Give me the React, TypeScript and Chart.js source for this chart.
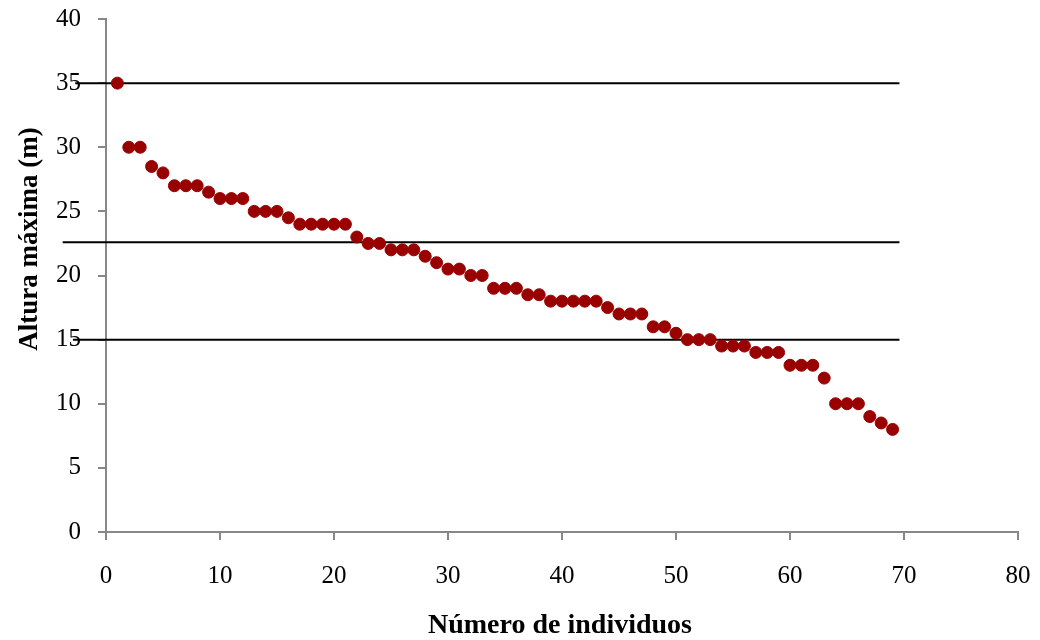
import React, { useEffect, useRef } from "react";
import { Chart, registerables } from "chart.js";

Chart.register(...registerables);

const individuals: number[] = Array.from({ length: 69 }, (_, i) => i + 1);
const heights: number[] = [
  35, 30, 30, 28.5, 28, 27, 27, 27, 26.5, 26, 26, 26, 25, 25, 25, 24.5, 24, 24, 24, 24, 24,
  23, 22.5, 22.5, 22, 22, 22, 21.5, 21, 20.5, 20.5, 20, 20, 19, 19, 19, 18.5, 18.5, 18, 18,
  18, 18, 18, 17.5, 17, 17, 17, 16, 16, 15.5, 15, 15, 15, 14.5, 14.5, 14.5, 14, 14, 14, 13,
  13, 13, 12, 10, 10, 10, 9, 8.5, 8,
];
const refLineValues: number[] = [35, 22.6, 15];
const refLineStarts: number[] = [-2.7, -3.8, -2.9];
const refLineEnd = 69.6;

const xTitle = "Número de individuos";
const yTitle = "Altura máxima (m)";

const FONT = "'Liberation Serif', 'Times New Roman', serif";

export default function App() {
  const ref = useRef<HTMLCanvasElement | null>(null);

  useEffect(() => {
    if (!ref.current) return;
    const titlePlugin = {
      id: "axisTitles",
      afterDraw(chart: any) {
        const { ctx } = chart;
        ctx.save();
        ctx.fillStyle = "#000";
        ctx.textAlign = "center";
        ctx.textBaseline = "alphabetic";
        ctx.font = `bold 28px ${FONT}`;
        ctx.fillText(xTitle, 560, 633);
        ctx.font = `bold 27px ${FONT}`;
        ctx.translate(37, 239);
        ctx.rotate(-Math.PI / 2);
        ctx.fillText(yTitle, 0, 0);
        ctx.restore();
      },
    };

    const lineSets = refLineValues.map((v, i) => ({
      type: "line" as const,
      data: [
        { x: refLineStarts[i], y: v },
        { x: refLineEnd, y: v },
      ],
      borderColor: "#000",
      borderWidth: 2,
      pointRadius: 0,
      showLine: true,
      fill: false,
      clip: false as any,
      order: 2,
    }));

    const chart = new Chart(ref.current, {
      type: "scatter",
      data: {
        datasets: [
          {
            data: individuals.map((x, i) => ({ x, y: heights[i] })),
            backgroundColor: "#990000",
            borderColor: "#990000",
            pointRadius: 6,
            pointHoverRadius: 6,
            order: 0,
          } as any,
          ...lineSets,
        ],
      },
      options: {
        animation: false,
        responsive: false,
        layout: { padding: { top: 19, right: 22, left: 0, bottom: 0 } },
        plugins: { legend: { display: false }, tooltip: { enabled: false } },
        scales: {
          x: {
            type: "linear",
            min: 0,
            max: 80,
            ticks: { stepSize: 10, color: "#000", font: { family: FONT, size: 25 }, padding: 21 },
            grid: { drawOnChartArea: false, drawTicks: true, tickLength: 8, color: "#888", lineWidth: 2 },
            border: { display: true, color: "#888", width: 2 },
            afterFit: (s: any) => {
              s.height = 108;
              s.paddingLeft = 0;
              s.paddingRight = 0;
            },
          },
          y: {
            type: "linear",
            min: 0,
            max: 40,
            ticks: { stepSize: 5, color: "#000", font: { family: FONT, size: 25 }, padding: 17 },
            grid: { drawOnChartArea: false, drawTicks: true, tickLength: 8, color: "#888", lineWidth: 2 },
            border: { display: true, color: "#888", width: 2 },
            afterFit: (s: any) => {
              s.width = 106;
              s.paddingTop = 0;
              s.paddingBottom = 0;
            },
          },
        },
      },
      plugins: [titlePlugin],
    });
    return () => chart.destroy();
  }, []);

  return (
    <div style={{ position: "fixed", left: 0, top: 0, width: 1040, height: 640, background: "#fff" }}>
      <canvas ref={ref} width={1040} height={640} style={{ width: 1040, height: 640 }} />
    </div>
  );
}
